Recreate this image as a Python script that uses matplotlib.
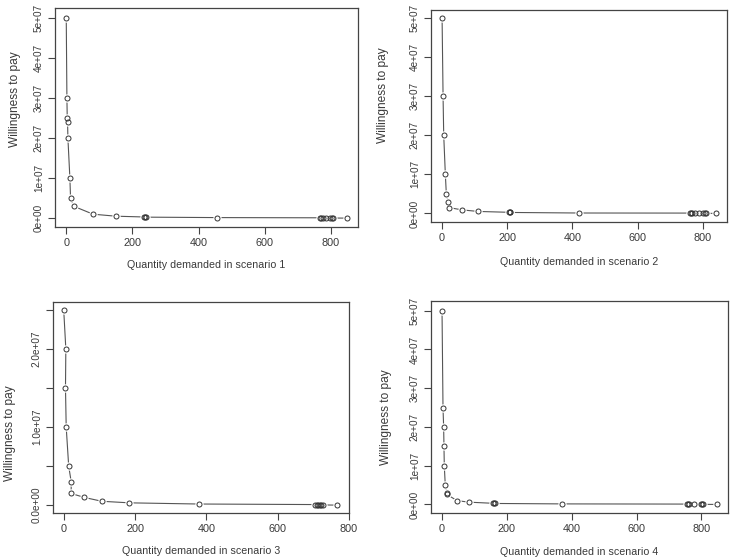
import matplotlib
matplotlib.use("Agg")
import matplotlib.pyplot as plt

plt.rcParams['font.family'] = ['Liberation Sans', 'DejaVu Sans']

# Scenario 1
q1 = [0, 2, 3, 4, 5, 11, 13, 22, 81, 150, 236, 238, 240, 457, 766, 770, 775, 785, 797, 802, 806, 848]
w1 = [5e7, 3e7, 2.5e7, 2.4e7, 2e7, 1e7, 5e6, 3e6, 1e6, 5e5, 3e5, 2.8e5, 2.6e5, 1.5e5, 1e5, 9e4, 8e4, 7e4, 6e4, 5e4, 4e4, 2e4]
# Scenario 2
q2 = [0, 3, 5, 10, 13, 18, 20, 61, 110, 205, 207, 209, 419, 760, 764, 768, 775, 788, 800, 806, 810, 840]
w2 = [5e7, 3e7, 2e7, 1e7, 5e6, 3e6, 1.5e6, 9e5, 5e5, 2.8e5, 2.6e5, 2.4e5, 1e5, 8e4, 7e4, 6e4, 5e4, 4e4, 3e4, 2e4, 1e4, 5e3]
# Scenario 3
q3 = [0, 6, 5, 7, 14, 21, 21, 57, 107, 184, 378, 705, 710, 714, 718, 722, 727, 765]
w3 = [2.5e7, 2e7, 1.5e7, 1e7, 5e6, 3e6, 1.5e6, 1e6, 5e5, 3e5, 1.5e5, 8e4, 7e4, 6e4, 5e4, 4e4, 3e4, 1e4]
# Scenario 4
q4 = [0, 3, 5, 6, 7, 10, 15, 15, 46, 82, 158, 160, 162, 369, 755, 758, 762, 778, 798, 802, 806, 848]
w4 = [5e7, 2.5e7, 2e7, 1.5e7, 1e7, 5e6, 3e6, 2.6e6, 1e6, 6e5, 3e5, 2.8e5, 2.6e5, 1.5e5, 1e5, 9e4, 8e4, 6e4, 5e4, 4e4, 3e4, 1e4]

xticks = [0, 200, 400, 600, 800]
yt_a = [0, 1e7, 2e7, 3e7, 4e7, 5e7]
yl_a = ["0e+00", "1e+07", "2e+07", "3e+07", "4e+07", "5e+07"]
yt_b = [0, 5e6, 1e7, 1.5e7, 2e7, 2.5e7]
yl_b = ["0.0e+00", "", "1.0e+07", "", "2.0e+07", ""]

W, H = 736, 559
fig = plt.figure(figsize=(W / 100, H / 100), dpi=100)

def box(l, r, t, b):
    return [l / W, 1 - b / H, (r - l) / W, (b - t) / H]

# (data, axes box, xlim, ylim, yticks, ylabels, n, xlabel centre px, ylabel centre px)
panels = [
    (q1, w1, box(55, 358, 8, 227), (-34, 882), (-2.2e6, 5.25e7), yt_a, yl_a, 1, (206, 265), (15, 99)),
    (q2, w2, box(431, 727, 10, 222), (-34, 874), (-2.2e6, 5.2e7), yt_a, yl_a, 2, (579, 262), (383, 95)),
    (q3, w3, box(53, 349, 302, 513), (-30, 800), (-1.0e6, 2.6e7), yt_b, yl_b, 3, (201, 551), (10, 433)),
    (q4, w4, box(431, 728, 301, 513), (-34, 882), (-2.2e6, 5.25e7), yt_a, yl_a, 4, (579, 552), (386, 417)),
]

lc = "#444444"
tc = "#3a3a3a"
for q, w, pos, xl, yl, yt, ylab, n, xlc, ylc in panels:
    ax = fig.add_axes(pos)
    ax.plot(q, w, color="#555555", lw=0.8, zorder=2)
    # white halo to leave gaps around points (R type="b")
    ax.plot(q, w, linestyle="none", marker="o", ms=6.0, mfc="white",
            mec="white", mew=0, zorder=3)
    ax.plot(q, w, linestyle="none", marker="o", ms=3.6, mfc="none",
            mec="#333333", mew=0.7, zorder=4)
    ax.set_xlim(*xl)
    ax.set_ylim(*yl)
    ax.set_xticks(xticks)
    ax.set_xticklabels([str(v) for v in xticks])
    ax.set_yticks(yt)
    ax.set_yticklabels(ylab, rotation=90, va="center",
                       family=['Liberation Sans Narrow', 'Liberation Sans', 'DejaVu Sans'],
                       fontsize=7.2)
    ax.tick_params(direction="out", length=5, width=0.8, colors=lc,
                   labelcolor=tc, pad=3)
    ax.tick_params(axis="x", labelsize=7.8)
    for s in ax.spines.values():
        s.set_color(lc)
        s.set_linewidth(0.9)
    xlab = ax.set_xlabel("Quantity demanded in scenario %d" % n, fontsize=7.7,
                         color=tc)
    ax.xaxis.set_label_coords(xlc[0] / W, 1 - xlc[1] / H, transform=fig.transFigure)
    xlab.set_verticalalignment("center")
    ylab_t = ax.set_ylabel("Willingness to pay", fontsize=8.6, color=tc)
    ax.yaxis.set_label_coords(ylc[0] / W, 1 - ylc[1] / H, transform=fig.transFigure)
    ylab_t.set_verticalalignment("center")

fig.savefig("out.png", dpi=100, facecolor="white")
